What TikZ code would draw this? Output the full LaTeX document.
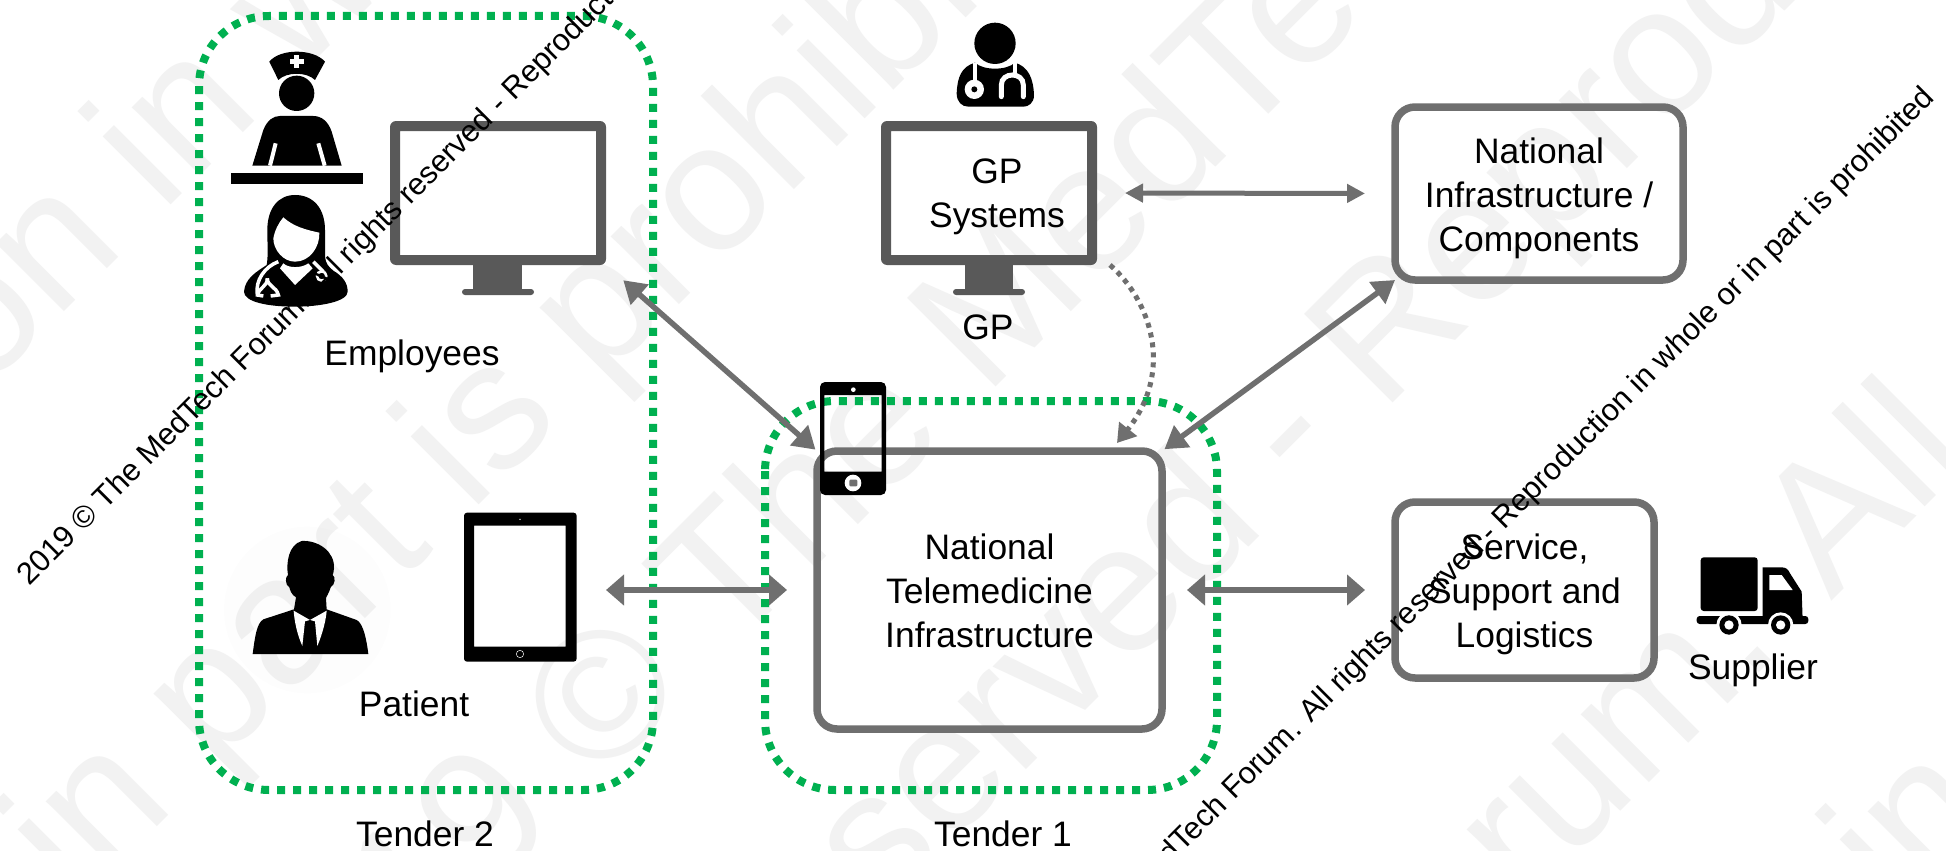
\documentclass[tikz,border=0pt]{standalone}
\usepackage{fontspec}
\setmainfont{Liberation Sans}
\usetikzlibrary{arrows.meta}
\definecolor{tgreen}{HTML}{00B050}
\definecolor{boxgray}{HTML}{6F6F6F}
\definecolor{mongray}{HTML}{595959}
\definecolor{wm}{HTML}{F2F2F2}
\newcommand{\wmtext}{2019 © The MedTech Forum. All rights reserved - Reproduction in whole or in part is prohibited}
\newcommand{\lbl}{\fontsize{35.4}{44}\selectfont}
\tikzset{
  tender/.style={draw=tgreen,line width=8pt,dash pattern=on 8pt off 8pt,rounded corners=70pt},
  boxnode/.style={draw=boxgray,line width=7.5pt,rounded corners=20pt,inner sep=0pt,outer sep=0pt},
  anchornode/.style={inner sep=0pt,outer sep=0pt},
  lbl/.style={anchor=base,font=\lbl,align=center,inner sep=0pt},
  boxtext/.style={font=\lbl,align=center,inner sep=0pt},
  hugewm/.style={rotate=45,anchor=base west,text=wm,inner sep=0pt,font=\fontsize{182}{182}\selectfont},
  smallwm/.style={rotate=45,inner sep=0pt,font=\fontsize{30.8}{31}\selectfont},
  arr/.style={draw=boxgray,line width=5.5pt,{Triangle[length=18pt,width=30pt]}-{Triangle[length=18pt,width=30pt]}},
  arrsm/.style={draw=boxgray,line width=5pt,{Triangle[length=18pt,width=18pt]}-{Triangle[length=18pt,width=18pt]}},
  arrdiag/.style={draw=boxgray,line width=5.5pt,{Triangle[length=22pt,width=26pt]}-{Triangle[length=22pt,width=26pt]}},
  arrdot/.style={draw=boxgray,line width=5pt,dash pattern=on 5pt off 5pt,-{Triangle[length=18pt,width=22pt,sep=0pt]}},
  ic/.style={fill=black,draw=none},
  icw/.style={fill=white,draw=none},
  monpart/.style={fill=mongray,draw=none}
}
\begin{document}
\begin{tikzpicture}[x=1pt,y=-1pt]
\useasboundingbox (0,0) rectangle (1946,851);
\clip (0,0) rectangle (1946,851);
\fill[white] (0,0) rectangle (1946,851);
% large faint watermark
\node[hugewm] (wa) at (-3505.7,3881.7) {\wmtext};
\node[hugewm] (wb) at (-4249,5233) {\wmtext};
\node[hugewm] (wc) at (275,1108) {\wmtext};
\node[hugewm] (wd) at (-1484.9,3280.9) {\wmtext};
\node[hugewm] (we) at (107.8,2324.2) {\wmtext};
\node[hugewm] (wf) at (-1769.2,4585.2) {\wmtext};
% tender frames
\draw[tender] (199,16) rectangle (653,790);
\draw[tender] (765,401) rectangle (1217,790);
% monitors
\fill[monpart,even odd rule,rounded corners=6pt] (390,121) rectangle (606,265) {[sharp corners] (400,131) rectangle (596,255)};
\fill[monpart] (473,265) rectangle (522,290);
\fill[monpart,rounded corners=3pt] (462,289) rectangle (534,295);
\node[anchornode,minimum width=216pt,minimum height=144pt] (empmon) at (498,193) {};
\fill[monpart,even odd rule,rounded corners=6pt] (881,121) rectangle (1097,265) {[sharp corners] (891,131) rectangle (1087,255)};
\fill[monpart] (965,265) rectangle (1013,290);
\fill[monpart,rounded corners=3pt] (953,289) rectangle (1025,295);
\node[anchornode,minimum width=216pt,minimum height=144pt] (gpmon) at (989,193) {};
\node[boxtext] (gptext) at (997,197) {GP\hspace{8pt}\\Systems};
% boxes
\node[boxnode,minimum width=345pt,minimum height=278pt] (telemed) at (989.5,590) {};
\node[boxnode,minimum width=288pt,minimum height=173pt] (infra) at (1539,193.5) {};
\node[boxnode,minimum width=259pt,minimum height=176pt] (service) at (1524.5,590) {};
\node[boxtext] (telemedtext) at (989.5,591) {National\\Telemedicine\\Infrastructure};
\node[boxtext] (infratext) at (1539,198.5) {National\\Infrastructure /\\Components};
\node[boxtext] (servicetext) at (1524.5,594) {Service,\\Support and\\Logistics};
% labels
\node[lbl] (employees) at (412,365) {Employees};
\node[lbl] (gplabel) at (988,339) {GP};
\node[lbl] (patient) at (414,716) {Patient};
\node[lbl] (tender2) at (425,846) {Tender 2};
\node[lbl] (tender1) at (1003,846) {Tender 1};
\node[lbl] (supplier) at (1753,679) {Supplier};
% nurse
\begin{scope}[shift={(180pt,0pt)},x=0.33333pt,y=-0.33333pt]
\fill[ic] (268,185) .. controls (300,145) and (400,145) .. (435,185) -- (405,240) .. controls (380,215) and (320,215) .. (295,240) -- cycle;
\fill[icw] (343,165) rectangle (358,205);
\fill[icw] (329,178) rectangle (373,192);
\fill[ic] (350,280) circle (53);
\fill[ic] (217,497) -- (250,390) .. controls (262,360) and (280,348) .. (300,348) -- (400,348) .. controls (425,348) and (445,365) .. (455,395) -- (485,497) -- cycle;
\draw[white,line width=4pt] (287,430) -- (270,497);
\draw[white,line width=4pt] (415,430) -- (434,497);
\fill[ic] (153,518) rectangle (549,553);
% female doctor
\fill[ic] (345,585) .. controls (400,585) and (435,625) .. (435,690) -- (435,770) .. controls (437,790) and (445,800) .. (460,812) .. controls (490,830) and (503,850) .. (503,875) .. controls (503,905) and (420,920) .. (345,920) .. controls (260,920) and (192,905) .. (192,875) .. controls (195,835) and (230,815) .. (260,795) .. controls (265,770) and (262,730) .. (262,690) .. controls (262,625) and (295,585) .. (345,585) -- cycle;
\fill[icw] (280,715) .. controls (285,690) and (295,670) .. (310,652) .. controls (340,680) and (380,690) .. (418,698) .. controls (420,740) and (390,785) .. (345,785) .. controls (310,785) and (280,750) .. (280,715) -- cycle;
\fill[icw] (300,805) -- (345,855) -- (398,805) -- (385,790) .. controls (365,805) and (325,805) .. (310,790) -- cycle;
\draw[white,line width=3.5pt] (295,785) .. controls (255,800) and (225,840) .. (232,885) -- (250,888);
\draw[white,line width=3.5pt] (262,835) .. controls (262,860) and (290,860) .. (295,885) -- (272,888);
\draw[white,line width=3.5pt] (262,835) .. controls (262,860) and (240,860) .. (232,885);
\draw[white,line width=3.5pt] (400,785) -- (430,815);
\draw[white,line width=2.5pt] (425,828) circle (14);
\end{scope}
% GP doctor
\begin{scope}[shift={(860pt,0pt)},x=0.33333pt,y=-0.33333pt]
\fill[ic] (405,130) circle (62);
\fill[ic] (290,280) .. controls (292,230) and (305,200) .. (345,188) .. controls (370,212) and (440,212) .. (465,188) .. controls (505,200) and (520,235) .. (522,285) .. controls (522,310) and (505,320) .. (490,320) -- (325,320) .. controls (305,320) and (290,305) .. (290,280) -- cycle;
\draw[white,line width=4pt] (345,190) -- (345,245);
\fill[icw] (343,268) circle (29);
\fill[ic] (343,268) circle (9);
\draw[white,line width=4pt,line cap=round] (465,190) -- (465,225);
\draw[white,line width=5pt,line cap=round] (424,290) -- (424,255) .. controls (424,215) and (490,215) .. (490,255) -- (490,290);
\end{scope}
% patient
\begin{scope}[shift={(200pt,-480pt)},x=0.33333pt,y=-0.33333pt]
\fill[black,opacity=0.008] (322,390) circle (250);
\fill[ic] (305,183) .. controls (355,180) and (405,215) .. (402,265) .. controls (401,275) and (400,280) .. (398,285) .. controls (408,290) and (405,315) .. (392,322) .. controls (385,345) and (378,350) .. (378,355) -- (380,388) -- (470,420) .. controls (490,430) and (500,480) .. (505,522) -- (158,522) .. controls (165,470) and (170,430) .. (190,418) -- (282,388) -- (288,352) .. controls (275,345) and (270,330) .. (268,322) .. controls (255,315) and (255,290) .. (264,285) .. controls (258,250) and (265,195) .. (305,183) -- cycle;
\fill[icw] (281,392) -- (330,420) -- (315,424) -- (307,498) .. controls (290,460) and (283,420) .. (281,392) -- cycle;
\fill[icw] (380,392) -- (330,420) -- (345,424) -- (352,498) .. controls (368,460) and (378,420) .. (380,392) -- cycle;
\fill[ic] (315,432) -- (330,420) -- (345,432) -- (337,445) -- (345,497) -- (315,497) -- (323,445) -- cycle;
% tablet
\fill[ic,even odd rule,rounded corners=3pt] (792,98) rectangle (1130,545) {[sharp corners] (822,137) rectangle (1097,500)};
\draw[white,line width=0.5pt] (960,522) circle (11);
\fill[white] (960,118) circle (2);
\end{scope}
\node[anchornode,minimum width=113pt,minimum height=149pt] (tablet) at (520.5,587.5) {};
% phone
\begin{scope}[shift={(780pt,-360pt)},x=0.33333pt,y=-0.33333pt]
\fill[ic,even odd rule,rounded corners=5pt] (120,66) rectangle (318,405) {[sharp corners] (133,105) rectangle (305,335)};
\fill[icw] (220,89) circle (7);
\fill[icw] (219,369) circle (25);
\fill[boxgray,rounded corners=1pt] (208,359) rectangle (232,379);
\end{scope}
% truck
\begin{scope}[shift={(1380pt,-480pt)},x=0.33333pt,y=-0.33333pt]
\fill[ic,rounded corners=3pt] (962,232) rectangle (1133,393);
\fill[ic,rounded corners=3pt] (950,408) rectangle (1285,432);
\fill[ic] (1148,262) -- (1205,262) .. controls (1220,262) and (1225,270) .. (1230,280) -- (1265,335) -- (1268,420) -- (1148,420) -- cycle;
\fill[icw] (1168,285) -- (1205,285) -- (1238,330) -- (1168,330) -- cycle;
\foreach \cx in {1047,1202}{
  \fill[icw] (\cx,435) circle (38);
  \fill[ic] (\cx,435) circle (29);
  \fill[icw] (\cx,435) circle (14);
}
\end{scope}
% connectors
\draw[arrsm,shorten <=28pt,shorten >=30pt] (gpmon.east) -- (infra.west);
\draw[arrdiag,shorten <=23pt,shorten >=2pt] (empmon.south east) -- (telemed.north west);
\draw[arr,shorten <=29pt,shorten >=30pt] (tablet.east |- telemed.west) -- (telemed.west);
\draw[arr,shorten <=25pt,shorten >=30pt] (telemed.east) -- (service.west);
\draw[arrdiag,shorten <=0pt,shorten >=3pt] (infra.south west) -- (telemed.north east);
\draw[arrdot] (gpmon.south east) ++(13,0) .. controls (1150,300) and (1175,370) .. (1117,443);
% small watermark
\node[smallwm,anchor=base west] (sa) at (29,587) {\wmtext};
\node[smallwm,anchor=base east] (sb) at (1936,99) {\wmtext};
\end{tikzpicture}
\end{document}
